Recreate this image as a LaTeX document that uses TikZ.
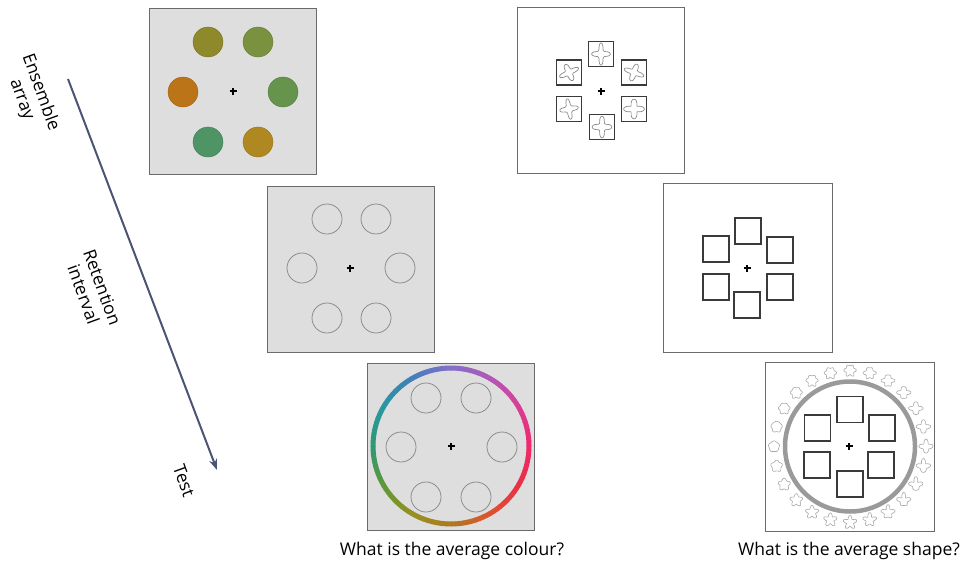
\documentclass[tikz,border=0pt]{standalone}
\usepackage{fontspec}
\setmainfont{Open Sans}
\usetikzlibrary{arrows.meta}
\definecolor{panelgray}{HTML}{DEDEDE}
\definecolor{panelline}{HTML}{6A6A6A}
\definecolor{circline}{HTML}{8C8C8C}
\definecolor{sqline}{HTML}{3A3A3A}
\definecolor{starcol}{HTML}{8A8A8A}
\definecolor{shapecol}{HTML}{A8A8A8}
\definecolor{ringgray}{HTML}{9A9A9A}
\definecolor{arrowcol}{HTML}{4B5573}
\definecolor{dA}{HTML}{8E8A2C}
\definecolor{dB}{HTML}{7A9240}
\definecolor{dC}{HTML}{BC7418}
\definecolor{dD}{HTML}{66944C}
\definecolor{dE}{HTML}{4E9464}
\definecolor{dF}{HTML}{B08822}
\definecolor{rA}{HTML}{F02870}
\definecolor{rB}{HTML}{D84098}
\definecolor{rC}{HTML}{B058B8}
\definecolor{rD}{HTML}{8070C8}
\definecolor{rE}{HTML}{4080B8}
\definecolor{rF}{HTML}{2898A0}
\definecolor{rG}{HTML}{309870}
\definecolor{rH}{HTML}{609838}
\definecolor{rI}{HTML}{989020}
\definecolor{rJ}{HTML}{B07820}
\definecolor{rK}{HTML}{E05030}
\definecolor{rL}{HTML}{E83048}
% 4-pointed star with rounded tips: cx, cy, rotation, xscale, yscale, sharpness exponent
\newcommand{\mystar}[6]{%
  \begin{scope}[shift={(#1,#2)}, rotate=#3, xscale=#4, yscale=#5]
    \draw[starline] plot[domain=0:360, samples=120, smooth, variable=\t]
      ({(4.3+6*abs(cos(2*\t))^#6)*cos(\t)}, {(4.3+6*abs(cos(2*\t))^#6)*sin(\t)}) -- cycle;
  \end{scope}}
\begin{document}
\begin{tikzpicture}[x=1pt,y=1pt,
  panel/.style={draw=panelline, line width=1pt, minimum width=167pt, minimum height=166pt, inner sep=0pt, outer sep=0pt},
  gpanel/.style={panel, fill=panelgray},
  wpanel/.style={panel, fill=white},
  dot/.style={circle, minimum size=30pt, inner sep=0pt, line width=0.4pt},
  emptycirc/.style={circle, draw=circline, line width=0.8pt, minimum size=30pt, inner sep=0pt},
  sqA/.style={draw=sqline, line width=1.3pt, fill=white, minimum size=25pt, inner sep=0pt},
  sqB/.style={draw=sqline, line width=1.5pt, fill=white, minimum size=26pt, inner sep=0pt},
  starline/.style={draw=starcol, line width=0.7pt},
  shapeline/.style={draw=shapecol, line width=0.6pt},
  lbl/.style={font=\fontsize{17.5}{20}\selectfont, align=center, inner sep=0pt},
  fixcross/.pic={\draw[line width=1.1pt] (-3.5pt,0)--(3.5pt,0) (0,-3.5pt)--(0,3.5pt);}
]
\useasboundingbox (0,0) rectangle (968,-568);

% ---------- Panel 1: colour ensemble ----------
\node[gpanel] (P1) at (232.5,-91) {};
\node[dot, fill=dA, draw=dA!85!black] (d1) at (208,-42) {};
\node[dot, fill=dB, draw=dB!85!black] (d2) at (258,-42) {};
\node[dot, fill=dC, draw=dC!85!black] (d3) at (183,-92) {};
\node[dot, fill=dD, draw=dD!85!black] (d4) at (283,-92) {};
\node[dot, fill=dE, draw=dE!85!black] (d5) at (208,-142) {};
\node[dot, fill=dF, draw=dF!85!black] (d6) at (258,-142) {};
\pic at (233,-91) {fixcross};

% ---------- Panel 2: colour retention ----------
\node[gpanel] (P2) at (350.5,-269) {};
\node[emptycirc] (e1) at (327,-219) {};
\node[emptycirc] (e2) at (376,-219) {};
\node[emptycirc] (e3) at (302,-268) {};
\node[emptycirc] (e4) at (400,-268) {};
\node[emptycirc] (e5) at (327,-318) {};
\node[emptycirc] (e6) at (376,-318) {};
\pic at (350,-268) {fixcross};

% ---------- Panel 3: colour test ----------
\node[gpanel, minimum height=167pt] (P3) at (451,-446.5) {};
\coordinate (C3) at (451,-446);
\foreach \a/\ca/\cb in {0/rA/rB,30/rB/rC,60/rC/rD,90/rD/rE,120/rE/rF,150/rF/rG,180/rG/rH,210/rH/rI,240/rI/rJ,270/rJ/rK,300/rK/rL,330/rL/rA}{
  \foreach \i in {0,...,9}{
    \pgfmathtruncatemacro\p{100-10*\i}
    \pgfmathsetmacro\st{\a+3*\i}
    \pgfmathsetmacro\en{\a+3*\i+3.4}
    \draw[line width=5pt, draw=\ca!\p!\cb] ([shift={(\st:78pt)}]C3) arc[start angle=\st, end angle=\en, radius=78pt];
  }
}
\node[emptycirc] (t1) at (426,-398) {};
\node[emptycirc] (t2) at (476,-398) {};
\node[emptycirc] (t3) at (401,-447) {};
\node[emptycirc] (t4) at (502,-447) {};
\node[emptycirc] (t5) at (426,-497) {};
\node[emptycirc] (t6) at (476,-497) {};
\pic at (451,-446) {fixcross};

% ---------- Panel 4: shape ensemble ----------
\node[wpanel] (P4) at (601,-90.5) {};
\node[sqA] (s1) at (601,-54) {};
\node[sqA] (s2) at (569,-72.5) {};
\node[sqA] (s3) at (634,-72.5) {};
\node[sqA] (s4) at (569,-109) {};
\node[sqA] (s5) at (634,-109) {};
\node[sqA] (s6) at (602,-127) {};
\mystar{601}{-54}{0}{0.9}{1.08}{4}
\mystar{569}{-72.5}{25}{1}{0.85}{3}
\mystar{634}{-72.5}{-20}{1}{0.85}{3}
\mystar{569}{-109}{10}{0.9}{1}{4}
\mystar{634}{-109}{0}{1}{0.95}{2}
\mystar{602}{-127}{0}{0.95}{1.05}{3}
\pic at (601,-91) {fixcross};

% ---------- Panel 5: shape retention ----------
\node[wpanel, minimum width=169pt, minimum height=169pt] (P5) at (747.5,-267.5) {};
\node[sqB] (m1) at (748,-231) {};
\node[sqB] (m2) at (716,-249) {};
\node[sqB] (m3) at (780,-250) {};
\node[sqB] (m4) at (716,-287) {};
\node[sqB] (m5) at (780,-287) {};
\node[sqB] (m6) at (747,-305) {};
\pic at (747,-268) {fixcross};

% ---------- Panel 6: shape test ----------
\node[wpanel, minimum width=169pt, minimum height=169pt] (P6) at (849.5,-446.5) {};
\coordinate (C6) at (850,-446.5);
\draw[draw=ringgray, line width=4.5pt] (C6) circle[radius=65pt];
\foreach \i in {0,...,23}{
  \pgfmathsetmacro\ph{90+15*\i}
  \pgfmathsetmacro\Af{1.7*max(0,cos(\ph))}
  \pgfmathsetmacro\Ap{0.35+1.3*max(0,-sin(\ph))}
  \pgfmathsetmacro\As{0.9*max(0,sin(\ph))}
  \pgfmathsetmacro\sx{850+76*cos(\ph)}
  \pgfmathsetmacro\sy{-446.5+76*sin(\ph)}
  \begin{scope}[shift={(\sx,\sy)}]
    \draw[shapeline] plot[domain=0:360, samples=73, variable=\t]
      ({(5.3+\Af*cos(4*\t)+\Ap*cos(5*(\t-90))+\As*cos(6*\t))*cos(\t)},
       {(5.3+\Af*cos(4*\t)+\Ap*cos(5*(\t-90))+\As*cos(6*\t))*sin(\t)}) -- cycle;
  \end{scope}
}
\node[sqB] (b1) at (850,-409.5) {};
\node[sqB] (b2) at (817.5,-428) {};
\node[sqB] (b3) at (882,-428) {};
\node[sqB] (b4) at (817,-465) {};
\node[sqB] (b5) at (881,-465) {};
\node[sqB] (b6) at (850,-484) {};
\pic at (849,-446) {fixcross};

% ---------- Time arrow and labels ----------
\coordinate (aS) at (68,-79);
\coordinate (aE) at (217,-470);
\draw[arrowcol, line width=2pt, -{Stealth[length=11pt,width=8pt]}] (aS) -- (aE);
\node[lbl, rotate=-70] (L1) at (31,-96) {Ensemble\\array};
\node[lbl, rotate=-70] (L2) at (93,-291) {Retention\\interval};
\node[lbl, rotate=-70] (L3) at (184,-481) {Test};
\node[lbl, anchor=base] (Q1) at (452,-555) {What is the average colour?};
\node[lbl, anchor=base] (Q2) at (849,-555) {What is the average shape?};
\end{tikzpicture}
\end{document}
